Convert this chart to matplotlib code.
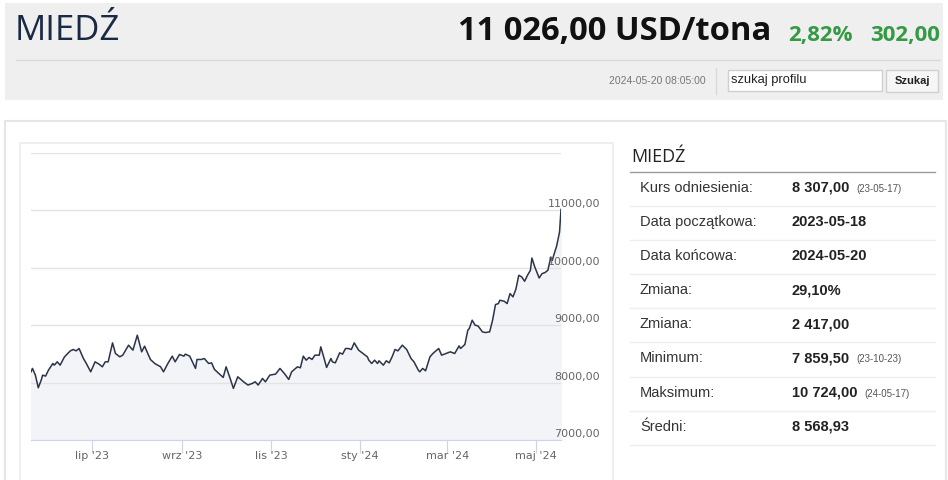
import numpy as np
import matplotlib
matplotlib.use("Agg")
import matplotlib.pyplot as plt
from matplotlib.patches import Rectangle
from matplotlib import transforms

# data
start = np.datetime64("2023-05-18")
days = [2, 3, 5, 7, 9, 10, 12, 14, 17, 18, 20, 22, 25, 29, 31, 33, 35, 36, 38, 40,
        43, 46, 49, 51, 53, 55, 58, 60, 63, 65, 69, 72, 75, 78, 80, 84, 87, 91, 93,
        96, 99, 101, 104, 107, 108, 111, 115, 116, 119, 121, 124, 126, 128, 131, 134,
        136, 139, 141, 144, 148, 151, 154, 156, 158, 161, 163, 166, 170, 173, 176, 179,
        181, 185, 187, 189, 191, 193, 195, 197, 200, 201, 203, 205, 208, 209, 211, 214,
        216, 218, 220, 222, 224, 227, 230, 233, 234, 236, 238, 240, 241, 244, 246, 248,
        250, 252, 254, 257, 260, 263, 265, 268, 269, 271, 273, 276, 278, 282, 284, 287,
        290, 293, 296, 297, 300, 302, 303, 305, 307, 309, 310, 312, 314, 317, 319, 321,
        323, 324, 327, 329, 331, 333, 335, 337, 339, 341, 343, 345, 346, 348, 351, 353,
        355, 357, 359, 360, 361, 363, 365, 366]
prices = [8188, 8247, 8130, 7910, 8043, 8130, 8113, 8217, 8333, 8304, 8362, 8304, 8449,
          8553, 8577, 8553, 8594, 8536, 8420, 8333, 8188, 8362, 8317, 8275, 8362, 8362,
          8692, 8507, 8449, 8478, 8652, 8565, 8826, 8536, 8635, 8403, 8333, 8275, 8188,
          8333, 8461, 8362, 8490, 8461, 8496, 8461, 8247, 8403, 8403, 8420, 8333, 8344,
          8229, 8159, 8090, 8275, 8055, 7899, 8101, 8014, 7957, 7986, 8014, 7957, 8072,
          8014, 8130, 8148, 8247, 8159, 8055, 8188, 8275, 8258, 8461, 8391, 8438, 8403,
          8478, 8478, 8623, 8449, 8264, 8420, 8362, 8344, 8519, 8496, 8594, 8594, 8577,
          8692, 8565, 8507, 8449, 8391, 8333, 8391, 8333, 8380, 8304, 8380, 8344, 8449,
          8577, 8553, 8652, 8577, 8420, 8362, 8217, 8188, 8247, 8206, 8449, 8507, 8594,
          8478, 8507, 8536, 8507, 8640, 8594, 8664, 8913, 8942, 9087, 9000, 8988, 8954,
          8884, 8872, 8884, 9087, 9359, 9377, 9435, 9417, 9377, 9551, 9493, 9626, 9870,
          9841, 9765, 9870, 9957, 10170, 10014, 9823, 9899, 9917, 9957, 10188, 10130,
          10217, 10379, 10623, 11017]

month_ticks = ["2023-07-01", "2023-09-01", "2023-11-01", "2024-01-01", "2024-03-01", "2024-05-01"]
month_labels = ["lip '23", "wrz '23", "lis '23", "sty '24", "mar '24", "maj '24"]
y_ticks = [7000, 8000, 9000, 10000, 11000, 12000]

name = "MIEDŹ"
last_price = "11 026,00 USD/tona"
change_pct = "2,82%"
change_abs = "302,00"
timestamp = "2024-05-20 08:05:00"

row_labels = ["Kurs odniesienia:", "Data początkowa:", "Data końcowa:", "Zmiana:",
              "Zmiana:", "Minimum:", "Maksimum:", "Średni:"]
row_values = ["8 307,00", "2023-05-18", "2024-05-20", "29,10%", "2 417,00",
              "7 859,50", "10 724,00", "8 568,93"]
row_notes = ["(23-05-17)", "", "", "", "", "(23-10-23)", "(24-05-17)", ""]

W, H = 948, 480
fig = plt.figure(figsize=(W / 100, H / 100), dpi=100)
fig.patch.set_facecolor("white")

# page background in pixel coords
bg = fig.add_axes([0, 0, 1, 1])
bg.set_xlim(0, W)
bg.set_ylim(H, 0)
bg.axis("off")

# header bar
bg.add_patch(Rectangle((5, 3), 938, 97, facecolor="#efefef", edgecolor="none"))
bg.plot([16, 940], [60, 60], color="#d9d9d9", lw=1)
bg.plot([716, 716], [68, 94], color="#d9d9d9", lw=1)
bg.text(15, 31, name, fontsize=25, family="Open Sans", weight=500, color="#1b2a44", va="center")
bg.text(771, 31, last_price, fontsize=23.6, family="Open Sans", weight="bold",
        color="#111111", va="center", ha="right")
bg.text(788, 35, change_pct, fontsize=16, family="Open Sans", weight="bold",
        color="#349a44", va="center")
bg.text(940, 35, change_abs, fontsize=16, family="Open Sans", weight="bold",
        color="#349a44", va="center", ha="right")
bg.text(706, 81, timestamp, fontsize=7.5, family="Liberation Sans", color="#777777",
        va="center", ha="right")
bg.add_patch(Rectangle((728, 70), 154, 21, facecolor="white", edgecolor="#cfcfcf", lw=1))
bg.text(731, 80, "szukaj profilu", fontsize=9.3, family="Liberation Sans", color="#222222",
        va="center")
bg.add_patch(Rectangle((886, 70), 52, 22, facecolor="#f6f6f6", edgecolor="#d0d0d0", lw=1))
bg.text(912, 81, "Szukaj", fontsize=8, family="Liberation Sans", weight="bold",
        color="#222222", va="center", ha="center")

# panels
bg.add_patch(Rectangle((5, 121), 941, 370, facecolor="white", edgecolor="#e6e6e6", lw=1.5))
bg.add_patch(Rectangle((20, 143), 593, 345, facecolor="white", edgecolor="#ececec", lw=1.2))

# table on the right
bg.text(631, 157, name, fontsize=13, family="Open Sans", color="#222222", va="center")
bg.plot([630, 935], [172, 172], color="#9a9a9a", lw=1)
renderer = fig.canvas.get_renderer()
inv = bg.transData.inverted()
for i, (lab, val, note) in enumerate(zip(row_labels, row_values, row_notes)):
    yc = 188 + i * 34.1
    bg.text(640, yc, lab, fontsize=10.5, family="Liberation Sans", color="#333333", va="center")
    t = bg.text(792, yc, val, fontsize=10.5, family="Liberation Sans", weight="bold",
                color="#222222", va="center")
    if note:
        bb = t.get_window_extent(renderer)
        x1 = inv.transform((bb.x1, bb.y0))[0]
        bg.text(x1 + 7, yc + 1, note, fontsize=7, family="Liberation Sans",
                color="#555555", va="center")
    bg.plot([630, 935], [yc + 18, yc + 18], color="#eeeeee", lw=1)

# chart
ax = fig.add_axes([31 / W, 1 - 440 / H, 530 / W, 287 / H])
ax.patch.set_alpha(0)
dates = start + np.array(days).astype("timedelta64[D]")
ax.fill_between(dates, prices, 7000, color="#f3f4f7", zorder=0)
ax.plot(dates, prices, color="#2b3547", lw=1.1, zorder=3)
ax.set_xlim(dates[0], dates[-1])
ax.set_ylim(y_ticks[0], y_ticks[-1])
ax.set_axisbelow(False)
ax.set_yticks(y_ticks)
ax.yaxis.grid(True, color="#e3e3e3", lw=1)
ax.tick_params(axis="y", length=0, labelleft=False)
for s in ["top", "left", "right"]:
    ax.spines[s].set_visible(False)
ax.spines["bottom"].set_color("#ccd6eb")
ax.set_xticks(np.array(month_ticks, dtype="datetime64[D]"))
ax.set_xticklabels(month_labels)
ax.tick_params(axis="x", length=9, color="#ccd6eb", labelcolor="#666666", labelsize=8, pad=-1)

lab_tr = transforms.offset_copy(
    transforms.blended_transform_factory(ax.transAxes, ax.transData), fig, x=39, y=1, units="dots")
for v in y_ticks[:-1]:
    ax.text(1.0, v, f"{v:.2f}".replace(".", ","), transform=lab_tr, ha="right", va="bottom",
            fontsize=8, color="#666666", clip_on=False)

fig.savefig("out.png", dpi=100, facecolor="white")
